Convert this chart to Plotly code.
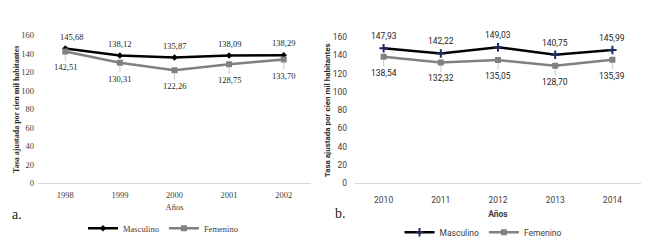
import plotly.graph_objects as go

years_a = ["1998", "1999", "2000", "2001", "2002"]
masc_a = [145.68, 138.12, 135.87, 138.09, 138.29]
fem_a = [142.51, 130.31, 122.26, 128.75, 133.70]

years_b = ["2010", "2011", "2012", "2013", "2014"]
masc_b = [147.93, 142.22, 149.03, 140.75, 145.99]
fem_b = [138.54, 132.32, 135.05, 128.70, 135.39]

y_ticks = [0, 20, 40, 60, 80, 100, 120, 140, 160]
ytitle = "Tasa ajustada por cien mil habitantes"

W, H = 664, 247
SERIF = "Liberation Serif"
SANS = "Roboto"

def fmt(v):
    return f"{v:.2f}".replace(".", ",")

fig = go.Figure()

# Panel a
fig.add_trace(go.Scatter(x=years_a, y=masc_a, mode="lines+markers", name="Masculino",
                         line=dict(color="black", width=2.5),
                         marker=dict(symbol="diamond", size=5, color="black"),
                         xaxis="x", yaxis="y", legend="legend"))
fig.add_trace(go.Scatter(x=years_a, y=fem_a, mode="lines+markers", name="Femenino",
                         line=dict(color="#808080", width=2.5),
                         marker=dict(symbol="square", size=6, color="#808080"),
                         xaxis="x", yaxis="y", legend="legend"))
# Panel b
fig.add_trace(go.Scatter(x=years_b, y=masc_b, mode="lines+markers", name="Masculino",
                         line=dict(color="black", width=2.5),
                         marker=dict(symbol="cross-thin", size=6, color="#1f2a60",
                                     line=dict(color="#1f2a60", width=2)),
                         xaxis="x2", yaxis="y2", legend="legend2"))
fig.add_trace(go.Scatter(x=years_b, y=fem_b, mode="lines+markers", name="Femenino",
                         line=dict(color="#808080", width=2.5),
                         marker=dict(symbol="square", size=6, color="#808080"),
                         xaxis="x2", yaxis="y2", legend="legend2"))

ann = []
def labels(m, f, xa, ya, font, size):
    for i, v in enumerate(m):
        ann.append(dict(x=i, y=v, xref=xa, yref=ya, text=fmt(v), showarrow=False,
                        yshift=12, xshift=(6 if i == 0 and font == SERIF else 0),
                        font=dict(family=font, size=size, color="#262626")))
    for i, v in enumerate(f):
        ann.append(dict(x=i, y=v, xref=xa, yref=ya, text=fmt(v), showarrow=True,
                        arrowhead=0, arrowwidth=0.6, arrowcolor="#a6a6a6", ax=0, ay=16,
                        standoff=3,
                        font=dict(family=font, size=size, color="#262626")))

labels(masc_a, fem_a, "x", "y", SERIF, 8.5)
labels(masc_b, fem_b, "x2", "y2", SANS, 8.5)

ann.append(dict(x=10 / W, y=1 - 219 / H, xref="paper", yref="paper", text="a.",
                showarrow=False, xanchor="left", yanchor="middle",
                font=dict(family=SERIF, size=14, color="#222")))
ann.append(dict(x=333 / W, y=1 - 218 / H, xref="paper", yref="paper", text="b.",
                showarrow=False, xanchor="left", yanchor="middle",
                font=dict(family=SERIF, size=14, color="#222")))

xa = dict(type="category", range=[-0.5, 4.5], showgrid=False, zeroline=False,
          showline=False, ticks="", fixedrange=True, automargin=False)
ya = dict(range=[0, 160], tickvals=y_ticks, showgrid=False, zeroline=True, fixedrange=True,
          zerolinecolor="#d9d9d9", zerolinewidth=1, showline=False, ticks="", automargin=False)

fig.update_layout(
    width=W, height=H, margin=dict(l=0, r=0, t=0, b=0),
    paper_bgcolor="white", plot_bgcolor="white",
    xaxis=dict(xa, domain=[38 / W, 311 / W], anchor="y", ticklabelstandoff=5,
               tickfont=dict(family=SERIF, size=8.5, color="#404040"),
               title=dict(text="Años", font=dict(family=SERIF, size=8.5, color="#404040"), standoff=5)),
    yaxis=dict(ya, domain=[1 - 187 / H, 1 - 36 / H], anchor="x", ticklabelstandoff=3,
               tickfont=dict(family=SERIF, size=8.5, color="#404040"),
               title=dict(text="<b>" + ytitle + "</b>", font=dict(family=SERIF, size=8, color="#262626"), standoff=0)),
    xaxis2=dict(xa, domain=[355 / W, 641 / W], anchor="y2", ticklabelstandoff=10,
                tickfont=dict(family=SANS, size=8.5, color="#404040"),
                title=dict(text="<b>Años</b>", font=dict(family=SANS, size=8.5, color="#404040"), standoff=7)),
    yaxis2=dict(ya, domain=[1 - 187 / H, 1 - 38 / H], anchor="x2", ticklabelstandoff=7,
                tickfont=dict(family=SANS, size=8.5, color="#404040"),
                title=dict(text="<b>" + ytitle + "</b>", font=dict(family=SANS, size=8, color="#262626"), standoff=0)),
    legend=dict(orientation="h", x=163 / W, y=1 - 233 / H, xanchor="center", yanchor="middle",
                font=dict(family=SERIF, size=8.5, color="#404040"), itemwidth=30,
                bgcolor="rgba(0,0,0,0)"),
    legend2=dict(orientation="h", x=483 / W, y=1 - 237 / H, xanchor="center", yanchor="middle",
                 font=dict(family=SANS, size=8.5, color="#404040"), itemwidth=30,
                 bgcolor="rgba(0,0,0,0)"),
    annotations=ann,
    showlegend=True,
)

fig.write_html("out.html", config={"displayModeBar": False},
               post_script="document.body.style.margin='0px';document.body.style.overflow='hidden';")
